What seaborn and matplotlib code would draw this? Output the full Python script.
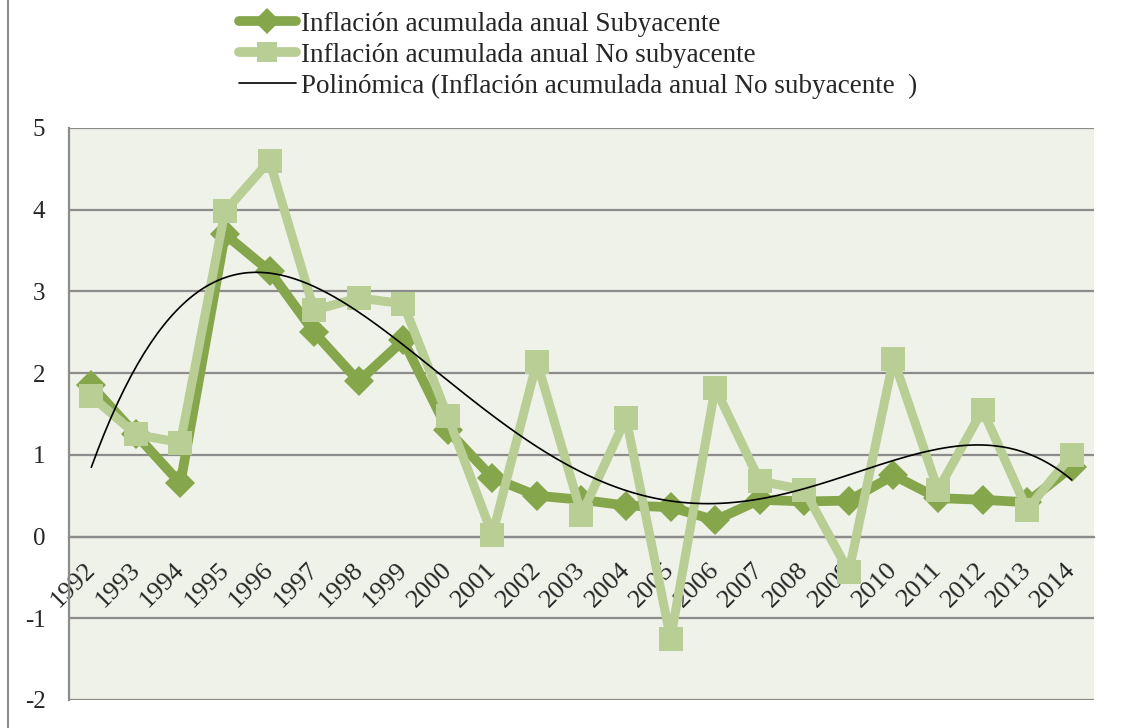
import matplotlib
matplotlib.use("Agg")
import matplotlib.pyplot as plt
import matplotlib.transforms as mtransforms
from matplotlib.lines import Line2D
import numpy as np
import pandas as pd
import seaborn as sns

# Data
years = ["1992", "1993", "1994", "1995", "1996", "1997", "1998", "1999", "2000",
         "2001", "2002", "2003", "2004", "2005", "2006", "2007", "2008", "2009",
         "2010", "2011", "2012", "2013", "2014"]
subyacente = [1.85, 1.25, 0.65, 3.70, 3.25, 2.50, 1.90, 2.40, 1.30, 0.72, 0.50,
              0.45, 0.38, 0.36, 0.20, 0.45, 0.43, 0.44, 0.75, 0.47, 0.45, 0.42, 0.85]
no_subyacente = [1.72, 1.25, 1.15, 3.98, 4.60, 2.77, 2.92, 2.85, 1.47, 0.02, 2.14,
                 0.27, 1.45, -1.25, 1.82, 0.68, 0.57, -0.43, 2.17, 0.57, 1.55, 0.33, 1.00]
y_ticks = [-2, -1, 0, 1, 2, 3, 4, 5]

lbl_sub = "Inflación acumulada anual Subyacente"
lbl_nosub = "Inflación acumulada anual No subyacente"
lbl_poly = "Polinómica (Inflación acumulada anual No subyacente  )"

dark = "#86A64C"
light = "#B8CE94"
grid_col = "#8C8C8C"

df = pd.DataFrame({"pos": np.arange(len(years)), "year": years,
                   "sub": subyacente, "nosub": no_subyacente})

# order-4 polynomial trendline of "No subyacente" (Excel style, x = 1..n)
coef = np.polyfit(df["pos"] + 1, df["nosub"], 4)
xs = np.linspace(0, len(years) - 1, 300)
trend = pd.DataFrame({"x": xs, "y": np.polyval(coef, xs + 1)})

sns.set_style("white")
plt.rcParams["font.family"] = ["Liberation Serif", "DejaVu Serif"]
plt.rcParams["axes.unicode_minus"] = False

fig = plt.figure(figsize=(11.4, 7.28), dpi=100)
ax = fig.add_axes([69 / 1140, 1 - 700 / 728, (1094 - 69) / 1140, (700 - 128) / 728])
ax.set_facecolor("#EFF2E9")

for y in y_ticks:
    ax.axhline(y, color=grid_col, lw=1.6, zorder=1)

sns.lineplot(data=df, x="pos", y="nosub", ax=ax, color=light, lw=6.5,
             marker="s", markersize=17, markeredgewidth=0, zorder=3)
sns.lineplot(data=df, x="pos", y="sub", ax=ax, color=dark, lw=7,
             marker="D", markersize=15, markeredgewidth=0, zorder=2)
sns.lineplot(data=trend, x="x", y="y", ax=ax, color="black", lw=1.2, zorder=4)

ax.set_xlim(-0.5, len(years) - 0.5)
ax.set_ylim(-2, 5)
ax.set_xlabel("")
ax.set_ylabel("")

for s in ["top", "right"]:
    ax.spines[s].set_visible(False)
ax.spines["left"].set_color(grid_col)
ax.spines["left"].set_linewidth(1.6)
ax.spines["bottom"].set_position(("data", 0))
ax.spines["bottom"].set_color(grid_col)
ax.spines["bottom"].set_linewidth(1.6)

ax.set_yticks(y_ticks)
ax.tick_params(axis="y", length=7, width=1.6, color=grid_col, direction="out",
               labelsize=18, pad=10)

ax.set_xticks(np.arange(len(years)))
ax.set_xticklabels(years, rotation=45, ha="center", va="top", fontsize=19)
ax.tick_params(axis="x", length=0, pad=16)
ax.set_xticks(np.arange(-0.5, len(years)), minor=True)
ax.tick_params(axis="x", which="minor", length=7, width=1.6, color=grid_col,
               direction="out")
shift = mtransforms.ScaledTranslation(-18 / 100, 0, fig.dpi_scale_trans)
for t in ax.get_xticklabels():
    t.set_transform(t.get_transform() + shift)

handles = [
    Line2D([], [], color=dark, lw=7, marker="D", markersize=13, markeredgewidth=0),
    Line2D([], [], color=light, lw=7, marker="s", markersize=15, markeredgewidth=0),
    Line2D([], [], color="black", lw=1.2),
]
fig.legend(handles, [lbl_sub, lbl_nosub, lbl_poly], loc="upper left",
           bbox_to_anchor=(228 / 1140, 1 - 1 / 728), frameon=False, fontsize=19.5,
           handlelength=2.1, handletextpad=0.2, labelspacing=0.22, borderaxespad=0)

fig.add_artist(Line2D([8 / 1140, 8 / 1140], [0, 1], color=grid_col, lw=1.5,
                      transform=fig.transFigure))

fig.savefig("out.png", dpi=100)
